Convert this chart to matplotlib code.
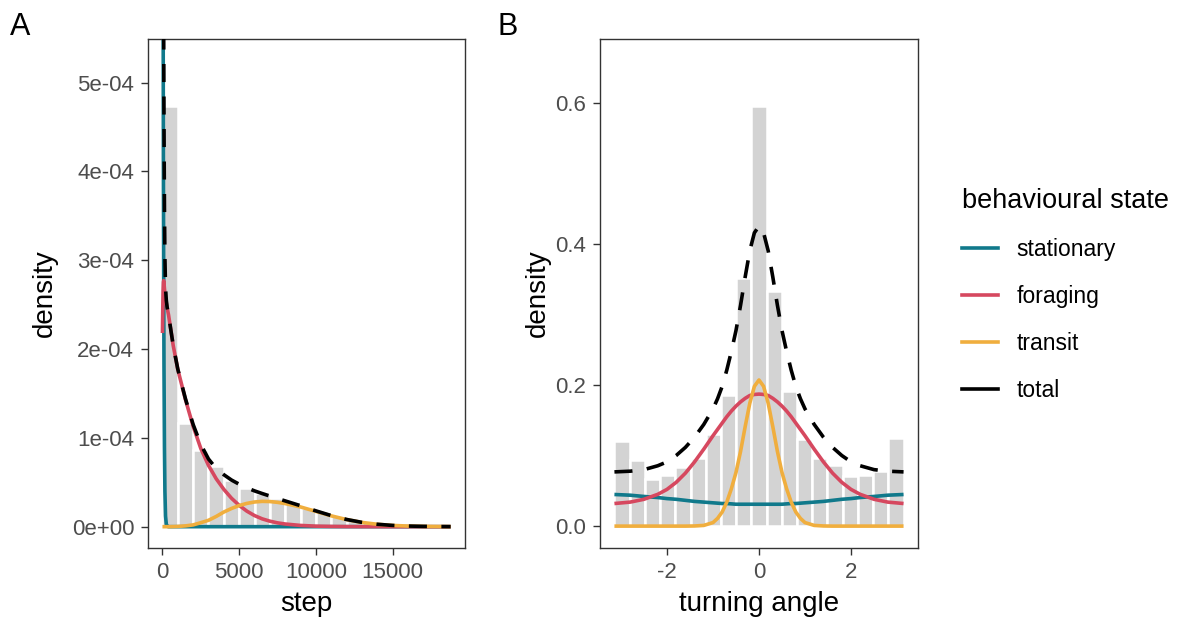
import numpy as np
import matplotlib
matplotlib.use("Agg")
import matplotlib.pyplot as plt
from matplotlib.lines import Line2D

plt.rcParams['font.family'] = ['Liberation Sans', 'DejaVu Sans']

# ---- panel A : step length (densities in units of 1e-4) ----
step_bin_edges = np.arange(0, 20000, 1000)
step_hist = [4.74, 1.17, 0.86, 0.68, 0.52, 0.44, 0.38, 0.32, 0.27, 0.21,
             0.16, 0.115, 0.08, 0.05, 0.032, 0.02, 0.012, 0.007, 0.004]

step_x = [0, 20, 40, 60, 80, 100, 130, 160, 200, 250, 300, 400, 700, 1000,
          1500, 2000, 2500, 3000, 3500, 4000, 4500, 5000, 5500, 6000, 6500,
          7000, 7500, 8000, 9000, 10000, 11000, 12000, 13000, 14000, 15000,
          16000, 17000, 18000, 18780]
step_stationary = [20, 10, 6.5, 4.2, 2.8, 1.8, 0.9, 0.4, 0.12, 0.03, 0.005,
                   0, 0, 0, 0, 0, 0, 0, 0, 0, 0, 0, 0, 0, 0, 0, 0, 0, 0, 0,
                   0, 0, 0, 0, 0, 0, 0, 0, 0]
step_foraging = [2.18, 2.45, 2.65, 2.75, 2.77, 2.74, 2.68, 2.63, 2.57, 2.52,
                 2.47, 2.38, 2.04, 1.77, 1.43, 1.13, 0.88, 0.69, 0.54, 0.42,
                 0.32, 0.24, 0.175, 0.125, 0.088, 0.062, 0.043, 0.03, 0.014,
                 0.006, 0.003, 0.0012, 0.0005, 0.0002, 0.0001, 0, 0, 0, 0]
step_transit = [0, 0, 0, 0, 0, 0, 0, 0, 0, 0, 0, 0, 0.001, 0.003, 0.009,
                0.02, 0.045, 0.072, 0.115, 0.165, 0.205, 0.238, 0.262, 0.278,
                0.285, 0.283, 0.274, 0.26, 0.222, 0.172, 0.122, 0.08, 0.048,
                0.027, 0.014, 0.007, 0.0035, 0.0016, 0.0008]
step_total = [22.18, 12.45, 9.15, 6.95, 5.57, 4.54, 3.58, 3.03, 2.69, 2.55,
              2.475, 2.38, 2.041, 1.773, 1.439, 1.15, 0.925, 0.762, 0.655,
              0.585, 0.525, 0.478, 0.437, 0.403, 0.373, 0.345, 0.317, 0.29,
              0.236, 0.178, 0.125, 0.0812, 0.0485, 0.0272, 0.0141, 0.007,
              0.0035, 0.0016, 0.0008]

# ---- panel B : turning angle ----
angle_bin_edges = np.linspace(-np.pi, np.pi, 20)
angle_hist = [0.12, 0.093, 0.067, 0.073, 0.084, 0.097, 0.131, 0.186, 0.351,
              0.595, 0.333, 0.191, 0.123, 0.096, 0.086, 0.071, 0.073, 0.078,
              0.125]

angle_x = [-3.1416, -2.8, -2.5, -2.2, -2.0, -1.8, -1.6, -1.4, -1.2, -1.0,
           -0.9, -0.8, -0.7, -0.6, -0.5, -0.4, -0.3, -0.2, -0.1, 0,
           0.1, 0.2, 0.3, 0.4, 0.5, 0.6, 0.7, 0.8, 0.9, 1.0,
           1.2, 1.4, 1.6, 1.8, 2.0, 2.2, 2.5, 2.8, 3.1416]
angle_stationary = [0.0448, 0.0438, 0.042, 0.0405, 0.039, 0.038, 0.0365,
                    0.035, 0.034, 0.033, 0.0325, 0.032, 0.032, 0.0315, 0.031,
                    0.031, 0.031, 0.031, 0.031, 0.031,
                    0.031, 0.031, 0.031, 0.031, 0.031, 0.0315, 0.032, 0.032,
                    0.0325, 0.033, 0.034, 0.035, 0.0365, 0.038, 0.039, 0.0405,
                    0.042, 0.0438, 0.0448]
angle_foraging = [0.032, 0.034, 0.038, 0.045, 0.052, 0.062, 0.075, 0.091,
                  0.109, 0.128, 0.137, 0.146, 0.155, 0.163, 0.170, 0.176,
                  0.181, 0.185, 0.1865, 0.187,
                  0.1865, 0.185, 0.181, 0.176, 0.170, 0.163, 0.155, 0.146,
                  0.137, 0.128, 0.109, 0.091, 0.075, 0.062, 0.052, 0.045,
                  0.038, 0.034, 0.032]
angle_transit = [0, 0, 0, 0, 0, 0, 0, 0.0002, 0.001, 0.005, 0.011, 0.020,
                 0.034, 0.053, 0.076, 0.106, 0.141, 0.174, 0.198, 0.207,
                 0.198, 0.174, 0.141, 0.106, 0.076, 0.053, 0.034, 0.020,
                 0.011, 0.005, 0.001, 0.0002, 0, 0, 0, 0, 0, 0, 0]
angle_total = [0.0768, 0.0778, 0.080, 0.0855, 0.091, 0.100, 0.1115, 0.126,
               0.144, 0.166, 0.1805, 0.198, 0.221, 0.2475, 0.277, 0.313,
               0.353, 0.39, 0.4155, 0.425,
               0.4155, 0.39, 0.353, 0.313, 0.277, 0.2475, 0.221, 0.198,
               0.1805, 0.166, 0.144, 0.126, 0.1115, 0.100, 0.091, 0.0855,
               0.080, 0.0778, 0.0768]

states = ["stationary", "foraging", "transit", "total"]
colours = ["#10798B", "#D6485F", "#F0AE3E", "black"]

grey_txt = "#4D4D4D"
lw = 2.6

fig = plt.figure(figsize=(11.93, 6.26), dpi=100)
axA = fig.add_axes([0.1241, 0.1246, 0.2657, 0.8131])
axB = fig.add_axes([0.5029, 0.1246, 0.2666, 0.8131])


def draw_panel(ax, edges, hist, x, curves, scale, ypad):
    ax.bar(edges[:-1], np.array(hist) * scale, width=np.diff(edges),
           align="edge", color="#D3D3D3", edgecolor="white", linewidth=1.8,
           zorder=1)
    for y, c in zip(curves[:3], colours[:3]):
        ax.plot(x, np.array(y) * scale, color=c, lw=lw, zorder=2,
                solid_capstyle="butt")
    ax.plot(x, np.array(curves[3]) * scale, color="black", lw=lw,
            linestyle=(0, (5, 4)), zorder=3)
    for s in ax.spines.values():
        s.set_color("#333333")
        s.set_linewidth(1.0)
    ax.tick_params(length=5, width=1.0, color="#333333", labelsize=16,
                   labelcolor=grey_txt, pad=5)
    ax.set_ylabel("density", fontsize=20, labelpad=ypad)


draw_panel(axA, step_bin_edges, step_hist, step_x,
           [step_stationary, step_foraging, step_transit, step_total], 1e-4, 10)
axA.set_xlim(-939, 19719)
axA.set_ylim(-0.24e-4, 5.49e-4)
axA.set_xticks([0, 5000, 10000, 15000])
axA.set_xticklabels(["0", "5000", "10000", "15000"])
axA.set_yticks([0, 1e-4, 2e-4, 3e-4, 4e-4, 5e-4])
axA.set_yticklabels(["0e+00", "1e-04", "2e-04", "3e-04", "4e-04", "5e-04"])
axA.set_xlabel("step", fontsize=20, labelpad=6)

draw_panel(axB, angle_bin_edges, angle_hist, angle_x,
           [angle_stationary, angle_foraging, angle_transit, angle_total], 1, 3)
axB.set_xlim(-3.456, 3.456)
axB.set_ylim(-0.031, 0.69)
axB.set_xticks([-2, 0, 2])
axB.set_xticklabels(["-2", "0", "2"])
axB.set_yticks([0, 0.2, 0.4, 0.6])
axB.set_yticklabels(["0.0", "0.2", "0.4", "0.6"])
axB.set_xlabel("turning angle", fontsize=20, labelpad=6)

fig.text(0.0084, 0.944, "A", fontsize=22, va="baseline")
fig.text(0.4166, 0.944, "B", fontsize=22, va="baseline")

handles = [Line2D([], [], color=c, lw=lw) for c in colours]
leg = fig.legend(handles, states, title="behavioural state",
                 loc="upper left", bbox_to_anchor=(0.806, 0.700),
                 frameon=False, fontsize=16.5, title_fontsize=19.5,
                 handlelength=1.6, handletextpad=0.8, labelspacing=1.05,
                 borderaxespad=0, borderpad=0)
leg._legend_box.align = "left"

fig.savefig("out.png", dpi=100)
